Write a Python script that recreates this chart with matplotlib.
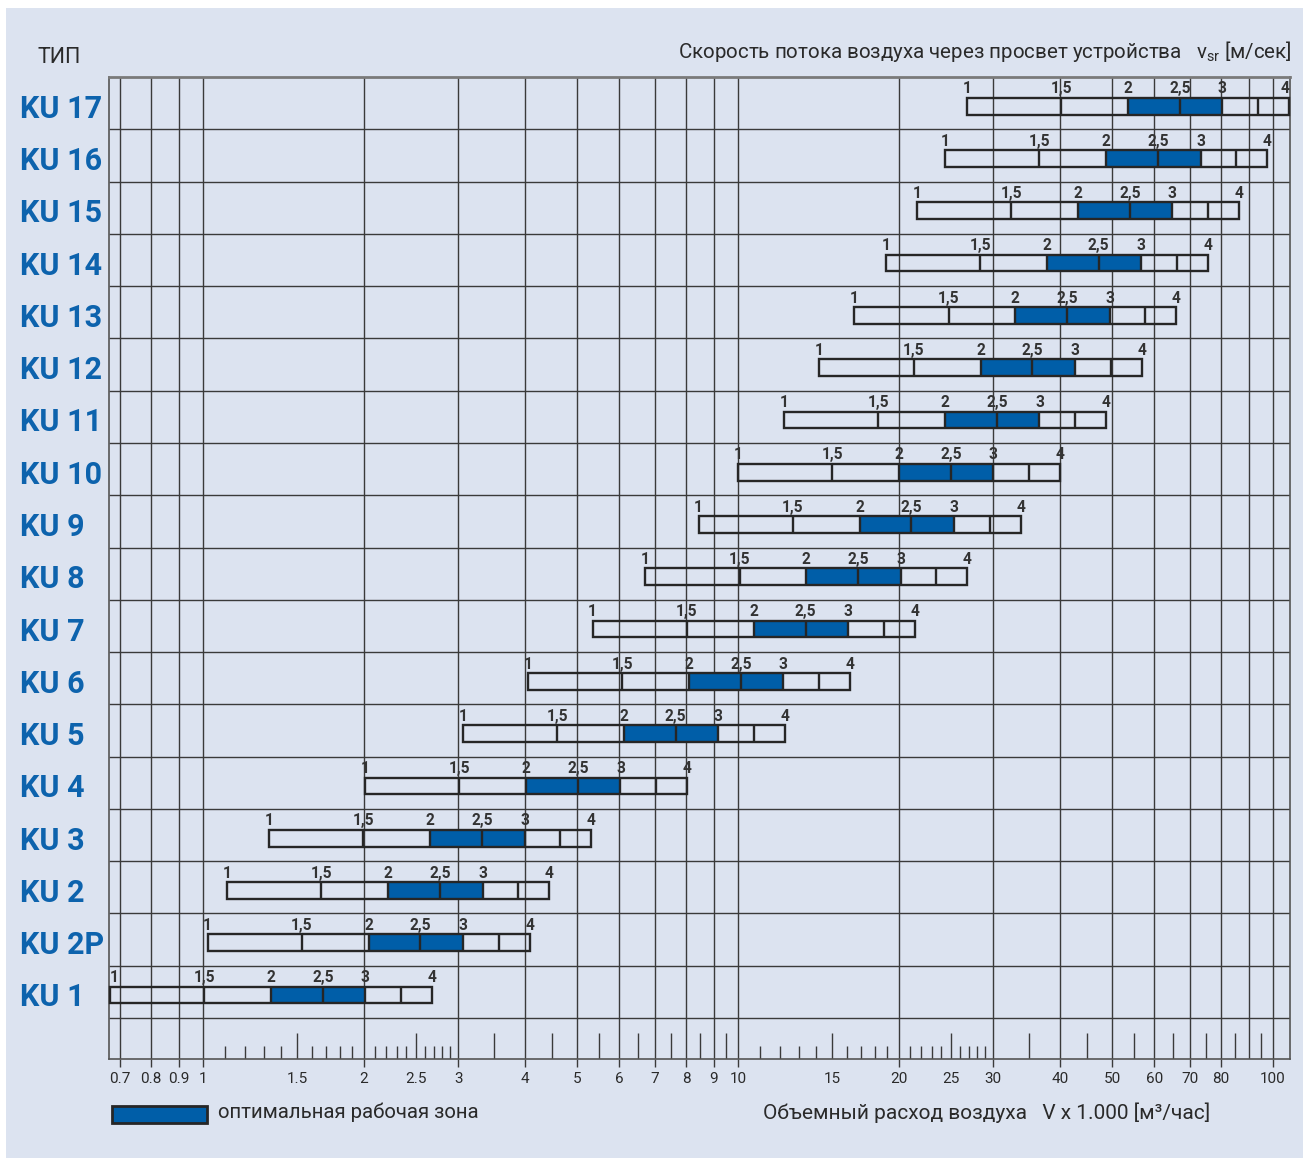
import matplotlib
matplotlib.use('Agg')
import matplotlib.pyplot as plt
from matplotlib.patches import Rectangle
from matplotlib.transforms import blended_transform_factory
from matplotlib.ticker import NullLocator
from matplotlib import font_manager

# ---------------- data ----------------
types = ['KU 1', 'KU 2P', 'KU 2', 'KU 3', 'KU 4', 'KU 5', 'KU 6', 'KU 7', 'KU 8',
         'KU 9', 'KU 10', 'KU 11', 'KU 12', 'KU 13', 'KU 14', 'KU 15', 'KU 16', 'KU 17']
# air volume flow (x 1000 m3/h) at 1 m/s through the unit
flow_at_1ms = [0.67, 1.02, 1.11, 1.33, 2.01, 3.06, 4.05, 5.35, 6.71,
               8.44, 10.0, 12.2, 14.2, 16.5, 18.9, 21.6, 24.4, 26.8]
velocity_steps = [1, 1.5, 2, 2.5, 3, 3.5, 4]
velocity_labels = ['1', '1,5', '2', '2,5', '3', '', '4']
optimal_zone = (2, 3)

grid_values = [0.7, 0.8, 0.9, 1, 2, 3, 4, 5, 6, 7, 8, 9, 10,
               20, 30, 40, 50, 60, 70, 80, 90, 100]
label_values = [0.7, 0.8, 0.9, 1, 1.5, 2, 2.5, 3, 4, 5, 6, 7, 8, 9, 10,
                15, 20, 25, 30, 40, 50, 60, 70, 80, 100]
label_texts = ['0.7', '0.8', '0.9', '1', '1.5', '2', '2.5', '3', '4', '5', '6', '7', '8', '9', '10',
               '15', '20', '25', '30', '40', '50', '60', '70', '80', '100']
medium_ticks = [1.5, 2.5, 3.5, 4.5, 5.5, 6.5, 7.5, 8.5, 9.5,
                15, 25, 35, 45, 55, 65, 75, 85, 95]
short_ticks = [1.1, 1.2, 1.3, 1.4, 1.6, 1.7, 1.8, 1.9, 2.1, 2.2, 2.3, 2.4, 2.6, 2.7, 2.8, 2.9,
               11, 12, 13, 14, 16, 17, 18, 19, 21, 22, 23, 24, 26, 27, 28, 29]

# ---------------- style ----------------
def pick(cands):
    for c in cands:
        try:
            font_manager.findfont(c, fallback_to_default=False)
            return c
        except Exception:
            pass
    return 'DejaVu Sans'

REG = pick(['Roboto', 'Open Sans', 'Noto Sans', 'DejaVu Sans'])
BOLD = pick(['Roboto', 'Lato', 'Open Sans', 'DejaVu Sans'])
plt.rcParams['font.family'] = [REG, 'DejaVu Sans']

LAV = '#dce3f0'
BLUE = '#005ea8'
LBLUE = '#0d63ad'
TXT = '#2a2a2a'
GRID = '#3a3a3a'
EDGE = '#262626'

W, H = 1303, 1158
fig = plt.figure(figsize=(W / 100, H / 100), dpi=100)
fig.patch.set_facecolor('white')
fig.patches.append(Rectangle((6 / W, 0), 1 - 6 / W, 1 - 8 / H, transform=fig.transFigure,
                             facecolor=LAV, edgecolor='none', zorder=-10))

ax_left, ax_right, ax_top, ax_bot = 109, 1290, 77, 1059
ax = fig.add_axes([ax_left / W, 1 - ax_bot / H, (ax_right - ax_left) / W, (ax_bot - ax_top) / H])
ax.set_facecolor('none')
ax.set_xscale('log')
px_per_dec = 535.0
x_one = 203.0
xmin = 10 ** ((ax_left - x_one) / px_per_dec)
xmax = 10 ** ((ax_right - x_one) / px_per_dec)
ax.set_xlim(xmin, xmax)

nrows = len(types)
row_px = (1018 - ax_top) / nrows
strip = (ax_bot - 1018) / row_px
ytop = strip + nrows
ax.set_ylim(0, ytop)
px = ytop / (ax_bot - ax_top)  # data units per pixel (y)

# grid
ax.hlines([strip + k for k in range(nrows)], xmin, xmax, color=GRID, lw=1.0, zorder=1)
ax.vlines(grid_values, 0, ytop, color=GRID, lw=1.0, zorder=1)
ext = [v for v in grid_values if v in label_values]
ax.vlines(ext, -8 * px, 0, color=GRID, lw=1.0, zorder=1, clip_on=False)
ax.vlines(medium_ticks, 0, 26 * px, color=GRID, lw=1.0, zorder=1)
ax.vlines(short_ticks, 0, 13 * px, color=GRID, lw=1.0, zorder=1)

for s in ['left', 'right', 'bottom']:
    ax.spines[s].set_color('#555555')
    ax.spines[s].set_linewidth(1.2)
ax.spines['top'].set_color('#7a7a7a')
ax.spines['top'].set_linewidth(2.0)

ax.set_xticks(label_values, label_texts)
ax.xaxis.set_minor_locator(NullLocator())
ax.tick_params(axis='x', which='both', length=0, pad=9.5, labelsize=11, labelcolor=TXT)
ax.set_yticks([])

# bars
bar_lo, bar_h = 0.28, 0.32
lab_y = 0.685
for k, (name, A) in enumerate(zip(types, flow_at_1ms)):
    y0 = strip + k + bar_lo
    xs = [A * v for v in velocity_steps]
    ax.add_patch(Rectangle((A * optimal_zone[0], y0), A * (optimal_zone[1] - optimal_zone[0]), bar_h,
                           facecolor=BLUE, edgecolor='none', zorder=3))
    ax.add_patch(Rectangle((xs[0], y0), xs[-1] - xs[0], bar_h, facecolor='none',
                           edgecolor=EDGE, lw=1.7, zorder=4, clip_on=False))
    ax.vlines(xs[1:-1], y0, y0 + bar_h, color=EDGE, lw=1.7, zorder=4)
    for x, t in zip(xs, velocity_labels):
        if t:
            ha = 'center'
            if x <= xmin * 1.01:
                ha = 'left'
            elif x >= xmax * 0.97:
                ha = 'right'
            ax.text(x, strip + k + lab_y, t, ha=ha, va='baseline', fontsize=11.2,
                    fontweight='bold', color='#333333', family=[BOLD, 'DejaVu Sans'],
                    zorder=5, clip_on=False)
    ax.text(20 / W, strip + k + 0.22, name,
            transform=blended_transform_factory(fig.transFigure, ax.transData),
            ha='left', va='baseline', fontsize=22, fontweight='bold', color=LBLUE,
            family=[BOLD, 'DejaVu Sans'])

# titles
fig.text(59 / W, 1 - 63 / H, 'ТИП', ha='center', va='baseline', fontsize=15.5, color=TXT)
fig.text(1292 / W, 1 - 58 / H,
         'Скорость потока воздуха через просвет устройства   v$_\\mathregular{sr}$ [м/сек]',
         ha='right', va='baseline', fontsize=14.8, color=TXT)
fig.text(1210 / W, 1 - 1119 / H, 'Объемный расход воздуха   V x 1.000 [м³/час]',
         ha='right', va='baseline', fontsize=15.0, color=TXT)

# legend
fig.patches.append(Rectangle((112 / W, 1 - 1123 / H), 95 / W, 17 / H, transform=fig.transFigure,
                             facecolor=BLUE, edgecolor=EDGE, lw=2.0, zorder=5))
fig.text(218 / W, 1 - 1118 / H, 'оптимальная рабочая зона', ha='left', va='baseline',
         fontsize=14.7, color=TXT)

fig.savefig('out.png', dpi=100, facecolor=fig.get_facecolor())
